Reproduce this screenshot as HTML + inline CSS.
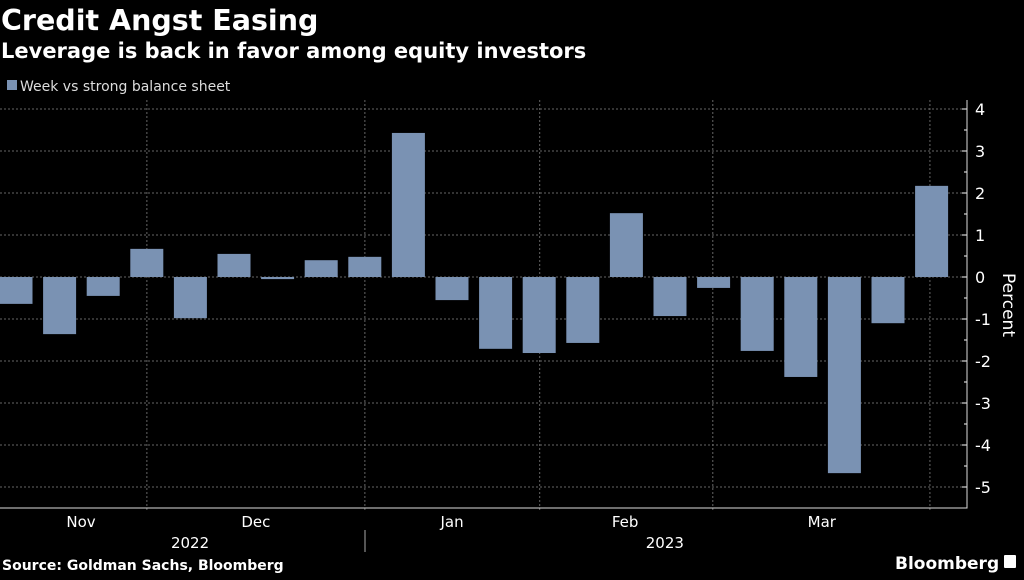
<!DOCTYPE html>
<html><head><meta charset="utf-8"><style>
body{margin:0;background:#000;width:1024px;height:576px;overflow:hidden;font-family:"DejaVu Sans","Liberation Sans",sans-serif;}
</style></head><body>
<svg id="chart" width="1024" height="576" xmlns="http://www.w3.org/2000/svg">
<text x="1" y="30" fill="#fff" font-size="28.5" font-weight="bold" font-family="DejaVu Sans, sans-serif">Credit Angst Easing</text>
<text x="1" y="58" fill="#fff" font-size="21" font-weight="bold" font-family="DejaVu Sans, sans-serif">Leverage is back in favor among equity investors</text>
<rect x="7" y="80" width="10" height="10" fill="#7a92b3"/>
<text x="20" y="91" fill="#ddd" font-size="14">Week vs strong balance sheet</text>
<g id="grid"></g><g id="bars"></g><g id="axis"></g>
<text x="2" y="570" fill="#fff" font-size="14" font-weight="bold">Source: Goldman Sachs, Bloomberg</text>
<text x="895" y="569" fill="#fff" font-size="17" font-weight="bold" text-anchor="start">Bloomberg</text>
<rect x="1004" y="555" width="12" height="13" fill="#fff" rx="1"/>
</svg>
<script>
const values=[-0.64,-1.36,-0.45,0.67,-0.98,0.55,-0.05,0.40,0.48,3.43,-0.55,-1.71,-1.81,-1.57,1.52,-0.93,-0.26,-1.76,-2.38,-4.67,-1.10,2.17];
const yTicks=[4,3,2,1,0,-1,-2,-3,-4,-5];
const months=["Nov","Dec","Jan","Feb","Mar"];
const monthGrid=[3.38,8.38,12.39,16.36,21.34];
const monthCenter=[1.87,5.88,10.38,14.35,18.86];
const years=["2022","2023"];
const yearCenter=[4.37,15.26];
const ns="http://www.w3.org/2000/svg";
const y=v=>277-v*42, xs=i=>-0.5+i*43.6;
function mk(t,a,p){const e=document.createElementNS(ns,t);for(const k in a)e.setAttribute(k,a[k]);(p||document.getElementById('chart')).appendChild(e);return e;}
const G=document.getElementById('grid'),B=document.getElementById('bars'),A=document.getElementById('axis');
yTicks.forEach(t=>{const l=mk('line',{x1:0,x2:967,y1:y(t),y2:y(t),stroke:'#666','stroke-dasharray':'2,2'},G);


const tk=mk('line',{x1:962,x2:967,y1:y(t),y2:y(t),stroke:'#fff'},A);


const s=mk('text',{x:975,y:y(t)+6,fill:'#fff','font-size':'16'},A);s.textContent=(t<0?'-'+(-t):t);


const m=mk('line',{x1:964,x2:967,y1:y(t-0.5),y2:y(t-0.5),stroke:'#fff'},A);

});
monthGrid.forEach(g=>{const l=mk('line',{x1:xs(g),x2:xs(g),y1:100,y2:512,stroke:'#666','stroke-dasharray':'2,2'},G);

});
values.forEach((v,i)=>{const r=mk('rect',{x:xs(i),width:33,y:Math.min(y(v),y(0)),height:Math.max(1,Math.abs(y(v)-y(0))),fill:'#7a92b3'},B);

});
const ax=mk('path',{d:'M0 508H967V100',stroke:'#ddd',fill:'none'},A);


months.forEach((m,i)=>{const t=mk('text',{x:xs(monthCenter[i]),y:527,fill:'#fff','font-size':'15','text-anchor':'middle'},A);t.textContent=m;

});
years.forEach((m,i)=>{const t=mk('text',{x:xs(yearCenter[i]),y:548,fill:'#fff','font-size':'15','text-anchor':'middle'},A);t.textContent=m;

});
const ys=mk('line',{x1:365,x2:365,y1:530,y2:552,stroke:'#aaa'},A);


const yt=mk('text',{x:1003,y:305,fill:'#fff','font-size':'17','text-anchor':'middle',transform:'rotate(90 1003 305)'},A);yt.textContent='Percent';


</script>
</body></html>
